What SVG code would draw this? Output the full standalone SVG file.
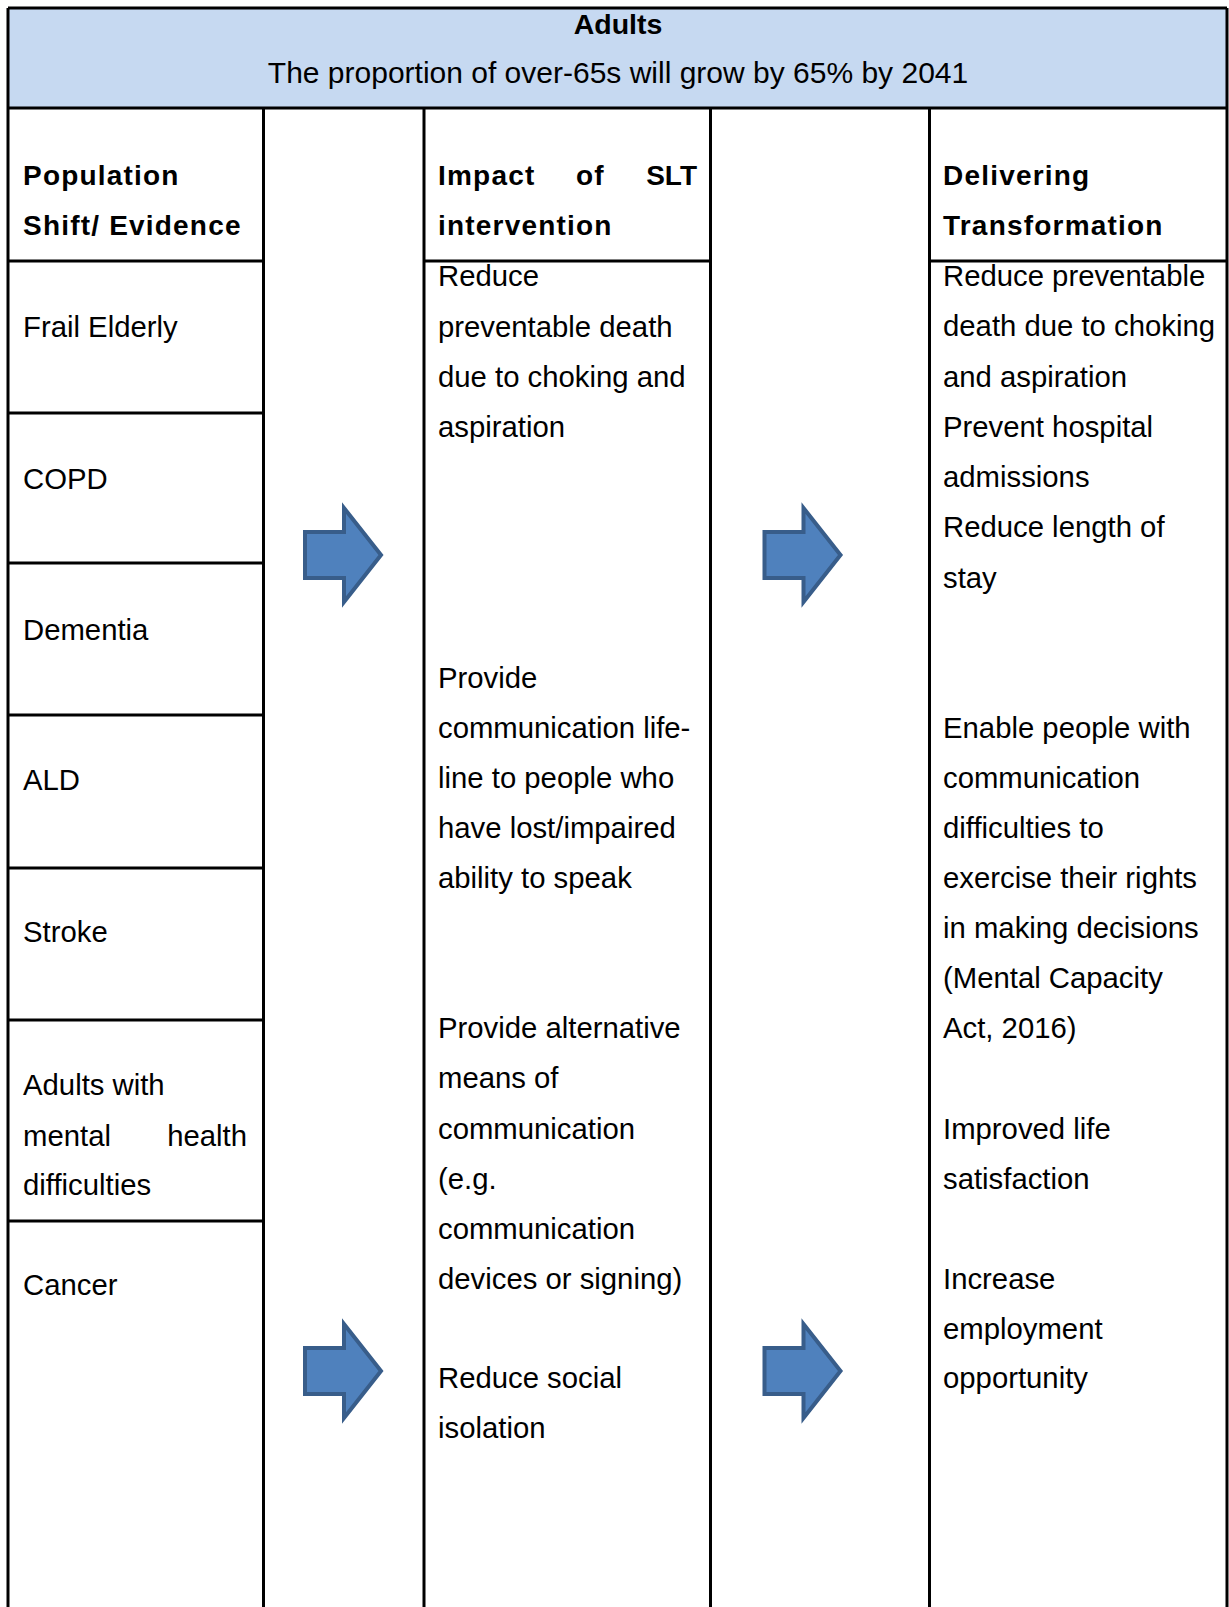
<svg xmlns="http://www.w3.org/2000/svg" width="1229" height="1607" viewBox="0 0 1229 1607">
<style>
.t{font-family:"Liberation Sans",Arial,sans-serif;font-size:29.3px;fill:#000}
.b{font-family:"Liberation Sans",Arial,sans-serif;font-size:28px;font-weight:bold;letter-spacing:1.2px;fill:#000}
.ln{stroke:#000;stroke-width:3;fill:none}
.arr{fill:#4F81BD;stroke:#385D8A;stroke-width:4;stroke-linejoin:miter}
</style>
<defs>
<path id="arrow" d="M305,532 L344,532 L344,508 L381,555 L344,602 L344,578 L305,578 Z"/>
</defs>
<rect width="1229" height="1607" fill="#fff"/>
<g id="header">
<rect x="8" y="8" width="1219" height="100" fill="#C6D9F1"/>
<text class="t" x="618" y="34" text-anchor="middle" style="font-weight:bold;font-size:28.5px">Adults</text>
<text class="t" x="618" y="83" text-anchor="middle" style="font-size:30px">The proportion of over-65s will grow by 65% by 2041</text>
</g>
<g id="grid">
<path class="ln" d="M8,8 H1227 M8,108 H1227 M8,8 V1607 M263.5,108 V1607 M424,108 V1607 M710.5,108 V1607 M929.5,108 V1607 M1227,8 V1607"/>
<path class="ln" d="M8,261 H263.5 M424,261 H710.5 M929.5,261 H1227"/>
<path class="ln" d="M8,413 H263.5 M8,563 H263.5 M8,715 H263.5 M8,868 H263.5 M8,1020 H263.5 M8,1221 H263.5"/>
</g>
<g id="col-population">
<text class="b" x="23" y="185">Population</text>
<text class="b" x="23" y="235">Shift/ Evidence</text>
<g id="frail-elderly"><text class="t" x="23" y="337">Frail Elderly</text></g>
<g id="copd"><text class="t" x="23" y="489">COPD</text></g>
<g id="dementia"><text class="t" x="23" y="640">Dementia</text></g>
<g id="ald"><text class="t" x="23" y="790">ALD</text></g>
<g id="stroke"><text class="t" x="23" y="942">Stroke</text></g>
<g id="mental-health"><text class="t" x="23" y="1095">Adults with</text>
<text class="t" x="23" y="1146">mental</text><text class="t" x="247" y="1146" text-anchor="end">health</text>
<text class="t" x="23" y="1195">difficulties</text></g>
<g id="cancer"><text class="t" x="23" y="1295">Cancer</text></g>
</g>
<g id="col-impact">
<text class="b" x="438" y="185">Impact</text><text class="b" x="576" y="185">of</text><text class="b" x="697" y="185" text-anchor="end" style="letter-spacing:0">SLT</text>
<text class="b" x="438" y="235">intervention</text>
<g id="impact-1"><text class="t" x="438" y="286">Reduce</text>
<text class="t" x="438" y="337">preventable death</text>
<text class="t" x="438" y="387">due to choking and</text>
<text class="t" x="438" y="437">aspiration</text></g>
<g id="impact-2"><text class="t" x="438" y="688">Provide</text>
<text class="t" x="438" y="738">communication life-</text>
<text class="t" x="438" y="788">line to people who</text>
<text class="t" x="438" y="838">have lost/impaired</text>
<text class="t" x="438" y="888">ability to speak</text></g>
<g id="impact-3"><text class="t" x="438" y="1038">Provide alternative</text>
<text class="t" x="438" y="1088">means of</text>
<text class="t" x="438" y="1139">communication</text>
<text class="t" x="438" y="1189">(e.g.</text>
<text class="t" x="438" y="1239">communication</text>
<text class="t" x="438" y="1289">devices or signing)</text></g>
<g id="impact-4"><text class="t" x="438" y="1388">Reduce social</text>
<text class="t" x="438" y="1438">isolation</text></g>
</g>
<g id="col-transformation">
<text class="b" x="943" y="185">Delivering</text>
<text class="b" x="943" y="235">Transformation</text>
<g id="trans-1"><text class="t" x="943" y="286">Reduce preventable</text>
<text class="t" x="943" y="336">death due to choking</text>
<text class="t" x="943" y="387">and aspiration</text>
<text class="t" x="943" y="437">Prevent hospital</text>
<text class="t" x="943" y="487">admissions</text>
<text class="t" x="943" y="537">Reduce length of</text>
<text class="t" x="943" y="588">stay</text></g>
<g id="trans-2"><text class="t" x="943" y="738">Enable people with</text>
<text class="t" x="943" y="788">communication</text>
<text class="t" x="943" y="838">difficulties to</text>
<text class="t" x="943" y="888">exercise their rights</text>
<text class="t" x="943" y="938">in making decisions</text>
<text class="t" x="943" y="988">(Mental Capacity</text>
<text class="t" x="943" y="1038">Act, 2016)</text></g>
<g id="trans-3"><text class="t" x="943" y="1139">Improved life</text>
<text class="t" x="943" y="1189">satisfaction</text></g>
<g id="trans-4"><text class="t" x="943" y="1289">Increase</text>
<text class="t" x="943" y="1339">employment</text>
<text class="t" x="943" y="1388">opportunity</text></g>
</g>
<g id="connectors">
<use href="#arrow" class="arr"/>
<use href="#arrow" class="arr" transform="translate(459.5,0)"/>
<use href="#arrow" class="arr" transform="translate(0,816)"/>
<use href="#arrow" class="arr" transform="translate(459.5,816)"/>
</g>
</svg>
